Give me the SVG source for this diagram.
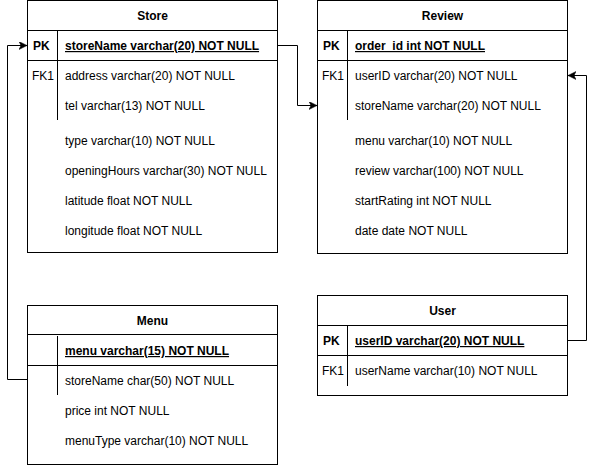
<svg xmlns="http://www.w3.org/2000/svg" width="596" height="466" viewBox="0 0 596 466">
<style>
  .box{fill:#fff;stroke:#000;stroke-width:1}
  .ln{stroke:#000;stroke-width:1;fill:none}
  text{font-family:"Liberation Sans",Arial,sans-serif;font-size:12px;fill:#000}
  .t{font-weight:bold;text-anchor:middle}
  .pk{font-weight:bold;text-decoration:underline}
  .b{font-weight:bold}
  .edge{stroke:#000;stroke-width:1;fill:none}
</style>
<defs>
  <marker id="arr" markerUnits="userSpaceOnUse" markerWidth="10" markerHeight="10" refX="8" refY="4" orient="auto">
    <path d="M0,0 L8,4 L0,8 L2,4 Z" fill="#000" stroke="#000" stroke-width="0.5"/>
  </marker>
</defs>

<g id="connectors">
  <path class="edge" d="M277.5,45.5 H297.5 V105.5 H317" marker-end="url(#arr)"/>
  <path class="edge" d="M27.5,379.5 H7.5 V45.5 H27" marker-end="url(#arr)"/>
  <path class="edge" d="M567.5,340.5 H586.5 V75.5 H568" marker-end="url(#arr)"/>
</g>

<g id="store">
  <rect class="box" x="27.5" y="0.5" width="250" height="252"/>
  <line class="ln" x1="27.5" y1="30.5" x2="277.5" y2="30.5"/>
  <line class="ln" x1="27.5" y1="60.5" x2="277.5" y2="60.5"/>
  <line class="ln" x1="57.5" y1="30.5" x2="57.5" y2="120"/>
  <text class="t" x="152.5" y="20">Store</text>
  <text class="b" x="33" y="50">PK</text>
  <text class="pk" x="65" y="50">storeName varchar(20) NOT NULL</text>
  <text x="32" y="80">FK1</text>
  <text x="65" y="80">address varchar(20) NOT NULL</text>
  <text x="65" y="110">tel varchar(13) NOT NULL</text>
  <text x="65" y="145">type varchar(10) NOT NULL</text>
  <text x="65" y="175">openingHours varchar(30) NOT NULL</text>
  <text x="65" y="205">latitude float NOT NULL</text>
  <text x="65" y="235">longitude float NOT NULL</text>
</g>

<g id="review">
  <rect class="box" x="317.5" y="0.5" width="250" height="253"/>
  <line class="ln" x1="317.5" y1="30.5" x2="567.5" y2="30.5"/>
  <line class="ln" x1="317.5" y1="60.5" x2="567.5" y2="60.5"/>
  <line class="ln" x1="347.5" y1="30.5" x2="347.5" y2="120"/>
  <text class="t" x="442.5" y="20">Review</text>
  <text class="b" x="323" y="50">PK</text>
  <text class="pk" x="355" y="50">order_id int NOT NULL</text>
  <text x="322" y="80">FK1</text>
  <text x="355" y="80">userID varchar(20) NOT NULL</text>
  <text x="355" y="110">storeName varchar(20) NOT NULL</text>
  <text x="355" y="145">menu varchar(10) NOT NULL</text>
  <text x="355" y="175">review varchar(100) NOT NULL</text>
  <text x="355" y="205">startRating int NOT NULL</text>
  <text x="355" y="235">date date NOT NULL</text>
</g>

<g id="menu">
  <rect class="box" x="27.5" y="305.5" width="250" height="159"/>
  <line class="ln" x1="27.5" y1="334.5" x2="277.5" y2="334.5"/>
  <line class="ln" x1="27.5" y1="365.5" x2="277.5" y2="365.5"/>
  <line class="ln" x1="57.5" y1="336" x2="57.5" y2="395"/>
  <text class="t" x="152.5" y="325">Menu</text>
  <text class="pk" x="65" y="355">menu varchar(15) NOT NULL</text>
  <text x="65" y="385">storeName char(50) NOT NULL</text>
  <text x="65" y="415">price int NOT NULL</text>
  <text x="65" y="445">menuType varchar(10) NOT NULL</text>
</g>

<g id="user">
  <rect class="box" x="317.5" y="295.5" width="250" height="100"/>
  <line class="ln" x1="317.5" y1="325.5" x2="567.5" y2="325.5"/>
  <line class="ln" x1="317.5" y1="355.5" x2="567.5" y2="355.5"/>
  <line class="ln" x1="347.5" y1="325.5" x2="347.5" y2="386"/>
  <text class="t" x="442.5" y="315">User</text>
  <text class="b" x="323" y="345">PK</text>
  <text class="pk" x="355" y="345">userID varchar(20) NOT NULL</text>
  <text x="322" y="375">FK1</text>
  <text x="355" y="375">userName varchar(10) NOT NULL</text>
</g>
</svg>
